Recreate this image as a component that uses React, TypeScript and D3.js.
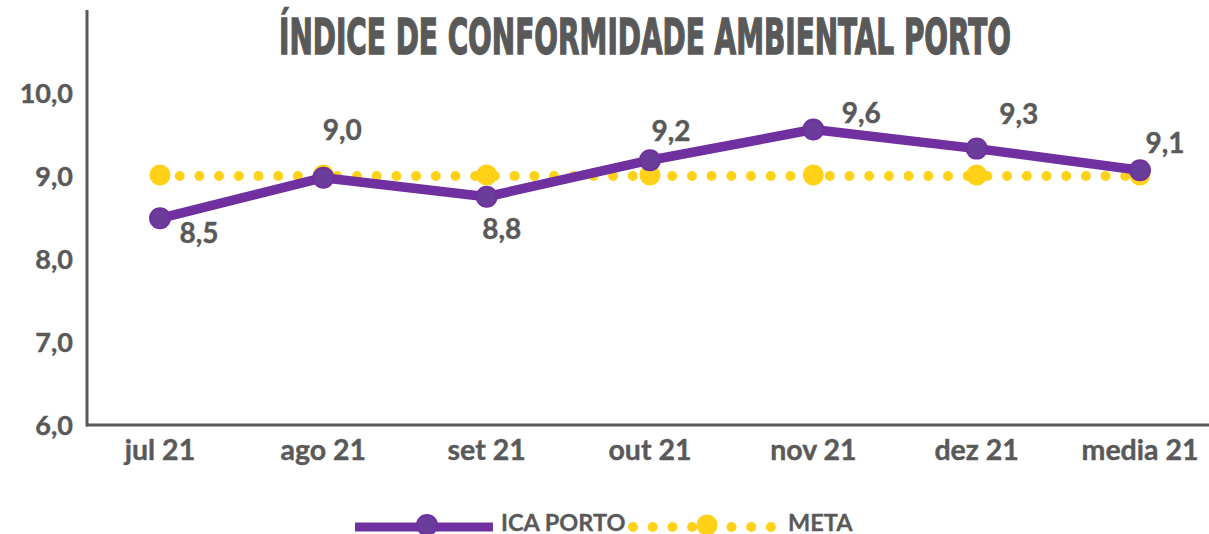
import * as d3 from "d3"

const months = ["jul 21", "ago 21", "set 21", "out 21", "nov 21", "dez 21", "media 21"]
const icaPorto = [8.49, 8.98, 8.75, 9.19, 9.56, 9.33, 9.07]
const meta = [9.0, 9.0, 9.0, 9.0, 9.0, 9.0, 9.0]
const yTicks = [6, 7, 8, 9, 10]

// manual label placement, like the excel chart
const labelDx = [39, 19, 15, 21, 48, 42, 25]
const labelDy = [15, -48, 32, -29, -17, -35, -27]

const W = 1209
const H = 534
const gray = "#595959"
const purple = "#7030A0"
const yellow = "#FFD117"
const font = "Lato, 'Liberation Sans', sans-serif"

const fmt = (v: number) => d3.format(".1f")(v).replace(".", ",")

export default function App() {
    const x = d3.scalePoint<string>().domain(months).range([160, 1140])
    const y = d3.scaleLinear().domain([6, 11]).range([425, 10])

    const line = d3.line<number>()
        .x((_, i) => x(months[i]) as number)
        .y((d) => y(d))

    const icaPath = line(icaPorto) || ""
    const metaPath = line(meta) || ""

    return (
        <svg width={W} height={H} style={{ position: "absolute", left: 0, top: 0, background: "#fff" }} fontFamily={font}>
            <text x={645} y={54} textAnchor="middle" fontFamily="'DejaVu Sans Condensed', 'DejaVu Sans', sans-serif"
                fontWeight="bold" fontSize={49} fill={gray} stroke={gray} strokeWidth={1.4}
                textLength={732} lengthAdjust="spacingAndGlyphs">
                ÍNDICE DE CONFORMIDADE AMBIENTAL PORTO
            </text>

            {/* axes */}
            <line x1={87} x2={87} y1={y(11)} y2={y(6) + 1.5} stroke={gray} strokeWidth={3} />
            <line x1={86} x2={W} y1={y(6)} y2={y(6)} stroke={gray} strokeWidth={3} />

            {yTicks.map((t) => (
                <text key={t} x={73} y={y(t)} dy="0.36em" textAnchor="end" fontSize={27} fontWeight="bold" fill={gray}
                    stroke={gray} strokeWidth={0.4}>
                    {fmt(t)}
                </text>
            ))}
            {months.map((m) => (
                <text key={m} x={x(m)} y={460} textAnchor="middle" fontSize={28.5} fontWeight="bold" fill={gray}
                    stroke={gray} strokeWidth={0.4}>
                    {m}
                </text>
            ))}

            {/* META */}
            <path d={metaPath} fill="none" stroke={yellow} strokeWidth={10} strokeLinecap="round" strokeDasharray="0 19.7" />
            {meta.map((v, i) => (
                <circle key={i} cx={x(months[i])} cy={y(v) - 1} r={10.5} fill={yellow} />
            ))}

            {/* ICA PORTO */}
            <path d={icaPath} fill="none" stroke={purple} strokeWidth={9.5} strokeLinejoin="round" />
            {icaPorto.map((v, i) => (
                <circle key={i} cx={x(months[i])} cy={y(v)} r={10} fill="#6B3D9B" stroke={purple} strokeWidth={2} />
            ))}
            {icaPorto.map((v, i) => (
                <text key={i} x={(x(months[i]) as number) + labelDx[i]} y={y(v) + labelDy[i]} dy="0.36em"
                    textAnchor="middle" fontSize={28} fontWeight="bold" fill={gray} stroke={gray} strokeWidth={0.4}>
                    {fmt(v)}
                </text>
            ))}

            {/* legend */}
            <g>
                <line x1={355} x2={493} y1={527} y2={527} stroke={purple} strokeWidth={9} />
                <circle cx={427} cy={525} r={10} fill="#6B3D9B" stroke={purple} strokeWidth={2} />
                <text x={501} y={531} fontSize={23.5} fontWeight="bold" fill={gray} stroke={gray} strokeWidth={0.3}>ICA PORTO</text>
                <line x1={633} x2={780} y1={527} y2={527} stroke={yellow} strokeWidth={10} strokeLinecap="round" strokeDasharray="0 19.7" />
                <circle cx={707} cy={525} r={10.5} fill={yellow} />
                <text x={788} y={531} fontSize={23.5} fontWeight="bold" fill={gray} stroke={gray} strokeWidth={0.3}>META</text>
            </g>
        </svg>
    )
}
